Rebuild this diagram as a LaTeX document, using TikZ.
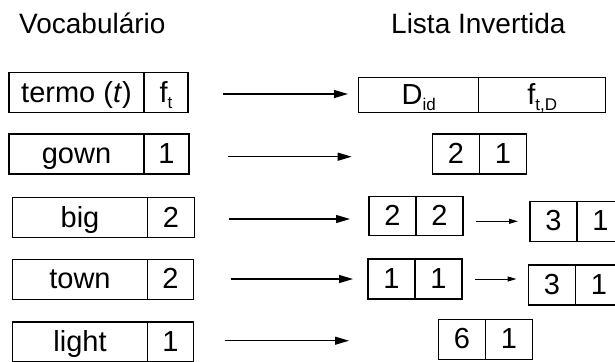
\documentclass[tikz,border=0pt]{standalone}
\usepackage{fontspec}
\setmainfont{Liberation Sans}
\usetikzlibrary{positioning,arrows.meta}

\newcommand{\lowidx}[1]{\raisebox{-0.22em}{\fontsize{17}{17}\selectfont #1}}

\tikzset{
  cell/.style={draw, line width=1.2pt, inner sep=0pt, outer sep=0pt, minimum height=40pt,
    text height=25pt, text depth=6.4pt, font=\fontsize{29}{29}\selectfont},
  termcell/.style={cell, minimum width=135pt},
  freqcell/.style={cell, minimum width=45pt},
  listcell/.style={cell, minimum width=47pt},
  title/.style={anchor=base west, inner sep=0pt, font=\fontsize{28}{28}\selectfont},
  bigarrow/.style={line width=1.2pt, -{Triangle[length=14pt,width=8pt]}},
  smallarrow/.style={line width=1pt, -{Triangle[length=9pt,width=5pt]}}
}

\begin{document}
\begin{tikzpicture}[x=1pt, y=-1pt]
        \useasboundingbox (0,0) rectangle (615,361);
        \node[title] (voc) at (19,34) {Vocabulário};
        \node[title] (lst) at (391,34) {Lista Invertida};

        \node[termcell] (termo-t) at (76.5,92.7) {termo (\textit{t})};
        \node[freqcell, minimum width=44pt, right=0pt of termo-t] (termo-f) {f\lowidx{t}};
        \node[termcell] (gown-t) at (76.5,154) {gown};
        \node[freqcell, right=0pt of gown-t] (gown-f) {1};
        \node[termcell] (big-t) at (80,217.7) {big};
        \node[freqcell, minimum width=47pt, right=0pt of big-t] (big-f) {2};
        \node[termcell] (town-t) at (80,279.5) {town};
        \node[freqcell, minimum width=46pt, right=0pt of town-t] (town-f) {2};
        \node[termcell] (light-t) at (80,342) {light};
        \node[freqcell, minimum width=46pt, right=0pt of light-t] (light-f) {1};

        \node[cell, minimum height=35pt, minimum width=120pt] (termo-d) at (418.8,95.3) {D\lowidx{id}};
        \node[cell, minimum height=35pt, minimum width=127pt, right=0pt of termo-d] (termo-n) {f\lowidx{t,D}};
        \node[listcell] (gown-d1) at (456,154) {2};
        \node[listcell, right=0pt of gown-d1] (gown-n1) {1};
        \node[listcell, minimum height=39pt] (big-d1) at (392.5,216.2) {2};
        \node[listcell, minimum height=39pt, right=0pt of big-d1] (big-n1) {2};
        \node[listcell] (big-d2) at (553.5,221.3) {3};
        \node[listcell, right=0pt of big-d2] (big-n2) {1};
        \node[listcell] (town-d1) at (391.5,279) {1};
        \node[listcell, right=0pt of town-d1] (town-n1) {1};
        \node[listcell] (town-d2) at (552,285) {3};
        \node[listcell, right=0pt of town-d2] (town-n2) {1};
        \node[listcell] (light-d1) at (462,339.2) {6};
        \node[listcell, right=0pt of light-d1] (light-n1) {1};

        \coordinate (termo-in) at (348,94);
        \coordinate (gown-in) at (351.7,156.7);
        \coordinate (big-in) at (350,219);
        \coordinate (town-in) at (353,279);
        \coordinate (light-in) at (349,340.7);
        \draw[bigarrow, shorten <=35pt] (termo-in -| termo-f.east) -- (termo-in);
        \draw[bigarrow, shorten <=39pt] (gown-in -| gown-f.east) -- (gown-in);
        \draw[bigarrow, shorten <=34pt] (big-in -| big-f.east) -- (big-in);
        \draw[bigarrow, shorten <=37pt] (town-in -| town-f.east) -- (town-in);
        \draw[bigarrow, shorten <=31pt] (light-in -| light-f.east) -- (light-in);

        \draw[smallarrow, shorten <=13pt, shorten >=12pt] (big-d2.west -| big-n1.east) -- (big-d2.west);
        \draw[smallarrow, shorten <=13pt, shorten >=12pt] (town-n1.east) -- (town-n1.east -| town-d2.west);
\end{tikzpicture}
\end{document}
